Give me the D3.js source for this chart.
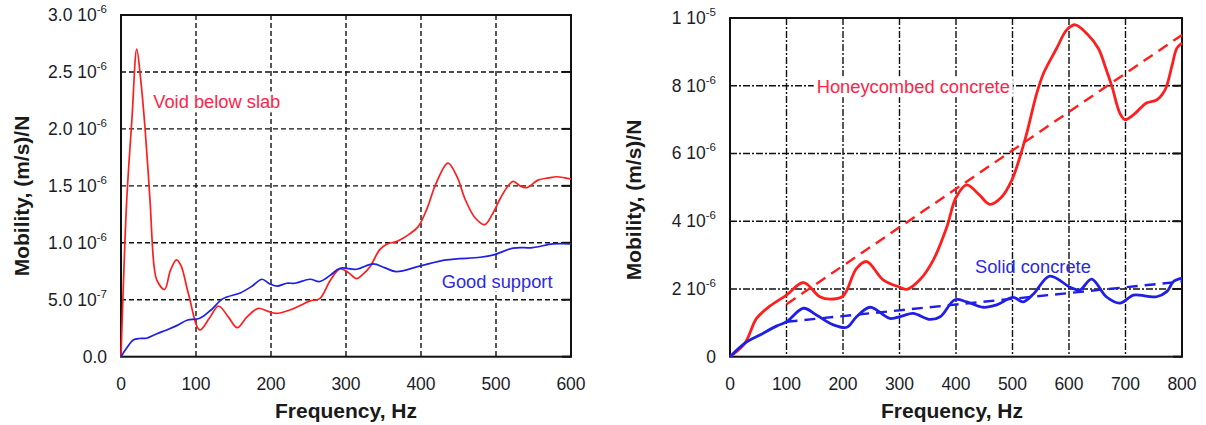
<!DOCTYPE html>
<html>
<head>
<meta charset="utf-8">
<script src="https://cdn.jsdelivr.net/npm/d3@7"></script>
<style>
  body { margin: 0; background: #fff; }
  svg { display: block; font-family: Arial, "Liberation Sans", sans-serif; }
  .tick-label { font-size: 17.5px; fill: #1c1c28; }
  .axis-title { font-size: 21px; font-weight: bold; fill: #1a1a1a; }
</style>
</head>
<body>
<script>
// Left panel: mobility in units of 1e-7 (m/s)/N
var leftFreqTicks = [0, 100, 200, 300, 400, 500, 600];
var leftMobTicks = [0, 5, 10, 15, 20, 25, 30];
var leftMobMantissa = ["0.0", "5.0", "1.0", "1.5", "2.0", "2.5", "3.0"];
var leftMobExponent = ["", "-7", "-6", "-6", "-6", "-6", "-6"];

var voidBelowSlab = [[0,0],[3,6],[7.6,13.7],[14.7,21],[21,27],[26,24.5],[32,20.1],[38.7,13.7],
  [44,8],[48,6.7],[58,5.9],[66,7.6],[74,8.5],[80,8],[90,5.5],[105,2.35],[118,3.4],[130,4.45],
  [143,3.5],[155,2.55],[168,3.5],[183,4.25],[195,4],[207,3.8],[225,4.1],[239,4.5],[252,4.9],
  [265,5.1],[279,6.7],[292,7.7],[303,7.4],[314,6.85],[322,7.2],[332,7.9],[345,9.4],[355,9.9],
  [367,10.1],[383,10.7],[396,11.4],[408,13],[420,15.2],[436,17.0],[448,15.8],[459,13.8],
  [472,12.2],[485,11.6],[495,12.5],[505,13.8],[515,14.9],[523,15.4],[532,15.0],[541,14.85],
  [556,15.5],[570,15.7],[581,15.8],[592,15.7],[600,15.6]];

var goodSupport = [[0,0],[8,0.8],[16.4,1.47],[25,1.6],[34,1.62],[47,2.0],[61,2.35],[75,2.75],
  [88,3.2],[105,3.37],[120,4.1],[136,5.1],[159,5.6],[175,6.2],[188,6.8],[198,6.4],[208,6.2],
  [221,6.45],[232,6.45],[252,6.8],[265,6.6],[280,7.2],[292,7.77],[314,7.68],[336,8.15],
  [352,7.8],[367,7.47],[399,7.97],[434,8.5],[479,8.73],[497,8.94],[523,9.53],[549,9.58],
  [576,9.9],[600,9.9]];

// Right panel: mobility in units of 1e-6 (m/s)/N
var rightFreqTicks = [0, 100, 200, 300, 400, 500, 600, 700, 800];
var rightMobTicks = [0, 2, 4, 6, 8, 10];
var rightMobMantissa = ["0", "2", "4", "6", "8", "1"];
var rightMobExponent = ["", "-6", "-6", "-6", "-6", "-5"];

var honeycombed = [[0,0],[26.5,0.4],[47,1.13],[71,1.5],[100,1.82],[130,2.19],[159,1.77],
  [177,1.7],[200,1.79],[224,2.61],[242,2.81],[271,2.27],[301,2.05],[313,1.99],[336,2.27],
  [360,2.86],[384,3.84],[400,4.7],[419,5.07],[440,4.8],[460,4.5],[480,4.7],[499,5.22],
  [522,6.4],[543,7.78],[555,8.37],[578,9.1],[596,9.65],[611,9.8],[631,9.55],[652,9.1],
  [664,8.57],[676,7.98],[690,7.19],[699,7.0],[714,7.14],[737,7.49],[755,7.58],[770,7.88],
  [782,8.57],[791,9.11],[800,9.26]];
var honeycombedTrend = [[100,1.55],[800,9.5]];

var solidConcrete = [[0,0],[26.5,0.4],[53,0.64],[83,0.91],[100,1.03],[130,1.43],[153,1.23],
  [183,0.94],[207,0.87],[224,1.18],[248,1.46],[283,1.13],[304,1.2],[324,1.28],[354,1.1],
  [372,1.18],[398,1.68],[419,1.62],[448,1.46],[472,1.53],[501,1.75],[519,1.62],[537,1.85],
  [566,2.38],[602,2.05],[619,1.97],[640,2.29],[666,1.77],[690,1.58],[714,1.82],[737,1.79],
  [755,1.77],[773,1.92],[785,2.22],[800,2.32]];
var solidTrend = [[100,1.03],[800,2.22]];

var RED = "#ff1e1e", BLUE = "#1f1fe6";

var svg = d3.select("body").append("svg")
    .attr("width", 1206)
    .attr("height", 425);

function drawPanel(p) {
  var x = d3.scaleLinear().domain(p.xDomain).range([p.left, p.right]);
  var y = d3.scaleLinear().domain(p.yDomain).range([p.bottom, p.top]);
  var g = svg.append("g");

  // grid
  g.selectAll(".vgrid").data(p.xTicks.slice(1, -1)).enter().append("line")
      .attr("x1", function(d) { return x(d); }).attr("x2", function(d) { return x(d); })
      .attr("y1", p.top).attr("y2", p.bottom)
      .attr("stroke", "#111").attr("stroke-width", 1.4)
      .attr("stroke-dasharray", p.gridDash);
  g.selectAll(".hgrid").data(p.yTicks.slice(1, -1)).enter().append("line")
      .attr("x1", p.left).attr("x2", p.right)
      .attr("y1", function(d) { return y(d); }).attr("y2", function(d) { return y(d); })
      .attr("stroke", "#111").attr("stroke-width", 1.4)
      .attr("stroke-dasharray", p.gridDash);

  // little inward ticks on the right edge
  g.selectAll(".rtick").data(p.yTicks).enter().append("line")
      .attr("x1", p.right - 9).attr("x2", p.right)
      .attr("y1", function(d) { return y(d); }).attr("y2", function(d) { return y(d); })
      .attr("stroke", "#111").attr("stroke-width", 2);

  // series labels (some sit on a white box that hides the grid)
  p.labels.forEach(function(l) {
    var t = g.append("text")
        .attr("x", x(l.f)).attr("y", y(l.v))
        .attr("font-size", 18.3)
        .attr("fill", l.color)
        .text(l.text);
    if (l.boxed) {
      var b = t.node().getBBox();
      g.insert("rect", function() { return t.node(); })
          .attr("x", b.x - 3).attr("y", b.y)
          .attr("width", b.width + 6).attr("height", b.height)
          .attr("fill", "#fff");
    }
  });

  // frame
  g.append("rect")
      .attr("x", p.left).attr("y", p.top)
      .attr("width", p.right - p.left).attr("height", p.bottom - p.top)
      .attr("fill", "none").attr("stroke", "#111").attr("stroke-width", 2);

  // series
  var line = d3.line()
      .x(function(d) { return x(d[0]); })
      .y(function(d) { return y(d[1]); })
      .curve(d3.curveCatmullRom.alpha(0.5));
  p.series.forEach(function(s) {
    g.append("path")
        .attr("d", line(s.data))
        .attr("fill", "none")
        .attr("stroke", s.color)
        .attr("stroke-width", s.width)
        .attr("stroke-dasharray", s.dash || null)
        .attr("stroke-linejoin", "round");
  });

  // x tick labels
  g.selectAll(".xlab").data(p.xTicks).enter().append("text")
      .attr("class", "tick-label")
      .attr("x", function(d) { return x(d); })
      .attr("y", 390)
      .attr("text-anchor", "middle")
      .text(function(d) { return d; });

  // y tick labels with superscript exponent
  p.yTicks.forEach(function(d, i) {
    var t = g.append("text")
        .attr("class", "tick-label")
        .attr("x", p.left - 14)
        .attr("y", y(d) + 6)
        .attr("text-anchor", "end");
    if (p.yExp[i]) {
      t.append("tspan").text(p.yMant[i] + " 10");
      t.append("tspan").attr("dy", -8).attr("font-size", 11.5).text(p.yExp[i]);
    } else {
      t.text(p.yMant[i]);
    }
  });

  // axis titles
  g.append("text")
      .attr("class", "axis-title")
      .attr("x", p.xTitleX).attr("y", 418)
      .attr("text-anchor", "middle")
      .text("Frequency, Hz");
  g.append("text")
      .attr("class", "axis-title")
      .attr("transform", "translate(" + p.yTitleX + "," + p.yTitleY + ")rotate(-90)")
      .attr("text-anchor", "middle")
      .text("Mobility, (m/s)/N");
}

drawPanel({
  left: 121, right: 571, top: 15, bottom: 356.7,
  xDomain: [0, 600], yDomain: [0, 30],
  xTicks: leftFreqTicks, yTicks: leftMobTicks,
  yMant: leftMobMantissa, yExp: leftMobExponent,
  gridDash: "5,3",
  xTitleX: 346, yTitleX: 29, yTitleY: 196,
  series: [
    {data: voidBelowSlab, color: RED, width: 1.7},
    {data: goodSupport, color: BLUE, width: 1.7}
  ],
  labels: [
    {text: "Void below slab", f: 43, v: 21.8, color: "#ff2448", boxed: true},
    {text: "Good support", f: 427.6, v: 6.06, color: "#2b2bdd", boxed: true}
  ]
});

drawPanel({
  left: 730, right: 1182, top: 18, bottom: 356.7,
  xDomain: [0, 800], yDomain: [0, 10],
  xTicks: rightFreqTicks, yTicks: rightMobTicks,
  yMant: rightMobMantissa, yExp: rightMobExponent,
  gridDash: "7,2,2,2",
  xTitleX: 952, yTitleX: 641, yTitleY: 200,
  series: [
    {data: honeycombedTrend, color: RED, width: 2.4, dash: "11,7"},
    {data: solidTrend, color: BLUE, width: 2.4, dash: "11,7"},
    {data: honeycombed, color: RED, width: 2.8},
    {data: solidConcrete, color: BLUE, width: 2.8}
  ],
  labels: [
    {text: "Honeycombed concrete", f: 153.5, v: 7.78, color: "#ff2448", boxed: true},
    {text: "Solid concrete", f: 433.6, v: 2.48, color: "#2b2bdd", boxed: false}
  ]
});
</script>
</body>
</html>
